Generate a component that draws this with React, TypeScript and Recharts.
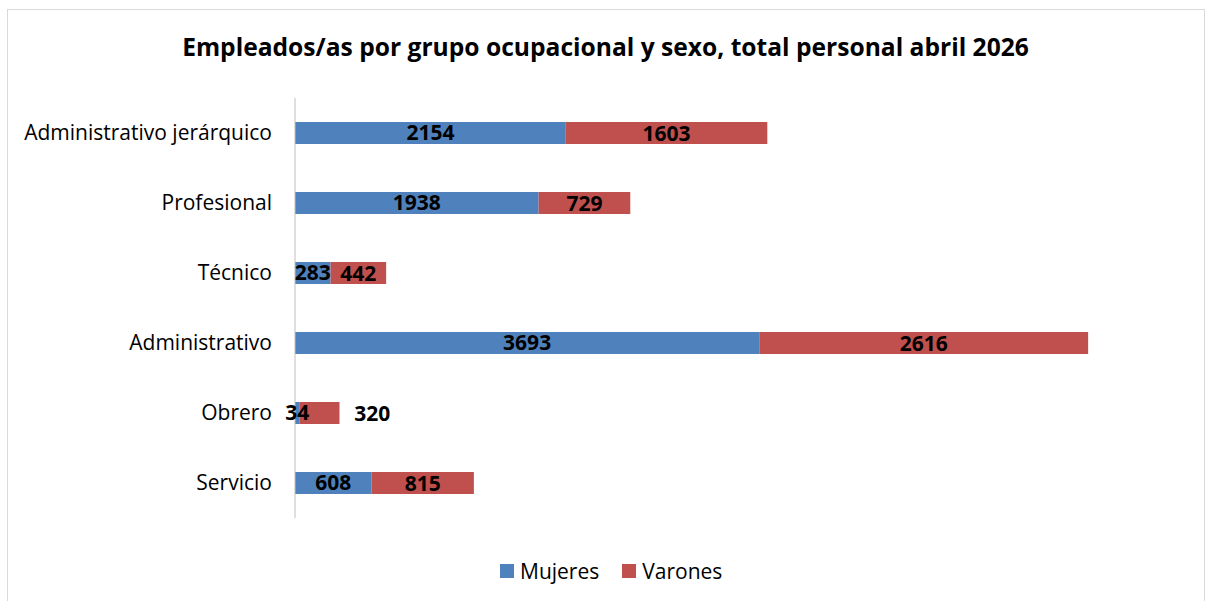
import { BarChart, Bar, XAxis, YAxis, LabelList } from 'recharts'

const categories = ['Administrativo jerárquico', 'Profesional', 'Técnico', 'Administrativo', 'Obrero', 'Servicio']
const mujeres = [2154, 1938, 283, 3693, 34, 608]
const varones = [1603, 729, 442, 2616, 320, 815]

const BLUE = '#4F81BD'
const RED = '#C0504D'
const FONT = '"Open Sans", "Noto Sans", sans-serif'

const data = categories.map((c, i) => ({ name: c, Mujeres: mujeres[i], Varones: varones[i] }))

// Obrero's Varones label sits to the right of its bar in the original
const varonesLabel = (props: any) => {
  const { x, y, width, height, value, index } = props
  const shift = categories[index] === 'Obrero' ? 53 : 0
  return (
    <text x={x + width / 2 + shift} y={y + height / 2} textAnchor="middle" dominantBaseline="central"
      fill="#000" fontWeight="bold" fontSize={21} fontFamily={FONT}>{value}</text>
  )
}

export default function App() {
  return (
    <div style={{ position: 'absolute', left: 0, top: 0, width: 1206, height: 601, background: '#fff', overflow: 'hidden', fontFamily: FONT }}>
      <div style={{ position: 'absolute', left: 7, top: 9, width: 1196, height: 620, border: '1px solid #D9D9D9' }} />
      <div style={{ position: 'absolute', left: 0, top: 31, width: 1211, textAlign: 'center', fontWeight: 'bold', fontSize: 24.6, lineHeight: '32px', color: '#000' }}>
        Empleados/as por grupo ocupacional y sexo, total personal abril 2026
      </div>
      <div style={{ position: 'absolute', top: 0, left: 0 }}>
        <BarChart width={1206} height={601} data={data} layout="vertical" barSize={22}
          margin={{ top: 98, right: 31, bottom: 83, left: 0 }}>
          <XAxis type="number" domain={[0, 7000]} hide />
          <YAxis type="category" dataKey="name" width={295} tickLine={false} tickSize={0} tickMargin={23}
            axisLine={{ stroke: '#BFBFBF' }}
            tick={{ fill: '#000', fontSize: 21, fontFamily: FONT }} />
          <Bar dataKey="Mujeres" stackId="a" fill={BLUE} isAnimationActive={false}>
            <LabelList dataKey="Mujeres" position="center" fill="#000" fontWeight="bold" fontSize={21} fontFamily={FONT} />
          </Bar>
          <Bar dataKey="Varones" stackId="a" fill={RED} isAnimationActive={false}>
            <LabelList dataKey="Varones" content={varonesLabel} />
          </Bar>
        </BarChart>
      </div>
      <div style={{ position: 'absolute', top: 557, left: 500, display: 'flex', alignItems: 'center', fontSize: 21, lineHeight: '28px', color: '#000' }}>
        <span style={{ width: 14, height: 14, background: BLUE, display: 'inline-block', marginRight: 6 }} />
        <span>Mujeres</span>
        <span style={{ width: 14, height: 14, background: RED, display: 'inline-block', marginLeft: 23, marginRight: 6 }} />
        <span>Varones</span>
      </div>
    </div>
  )
}
